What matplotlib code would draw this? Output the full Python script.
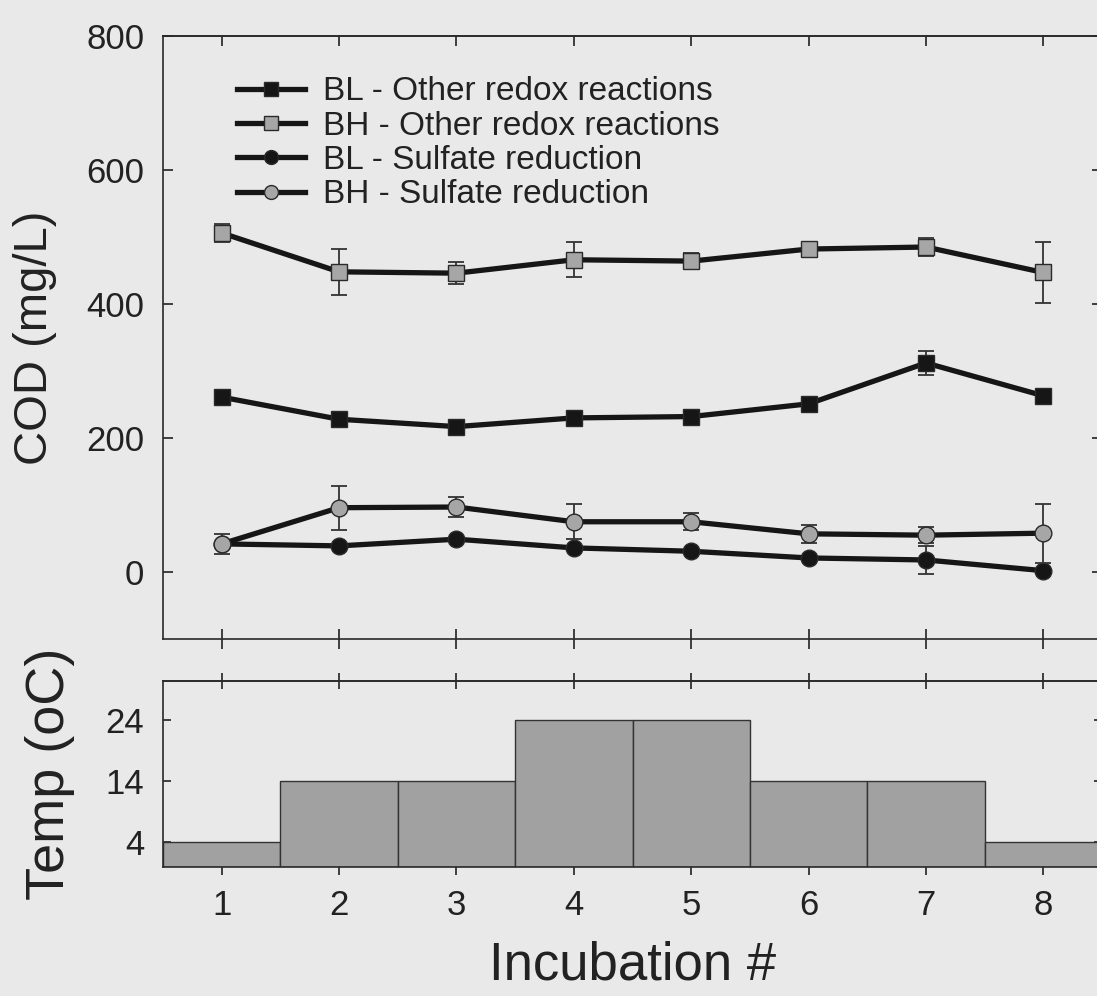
"""
COD por tipo de reação (BL/BH) ao longo das incubações, com a temperatura
de cada incubação em barras no painel de baixo.
"""
import numpy as np
import matplotlib
matplotlib.use("Agg")
import matplotlib.pyplot as plt
from matplotlib.lines import Line2D

# ── dados ────────────────────────────────────────────────────────────────
incubacao = [1, 2, 3, 4, 5, 6, 7, 8]

bl_outras = [261, 228, 217, 230, 232, 251, 312, 263]
bl_outras_err = [0, 0, 0, 0, 0, 0, 18, 0]
bh_outras = [506, 448, 446, 466, 464, 482, 485, 447]
bh_outras_err = [14, 34, 16, 26, 12, 5, 13, 45]
bl_sulfato = [42, 39, 49, 36, 31, 21, 18, 2]
bl_sulfato_err = [0, 0, 0, 0, 0, 0, 21, 0]
bh_sulfato = [42, 96, 97, 75, 75, 57, 55, 58]
bh_sulfato_err = [15, 33, 15, 26, 13, 13, 12, 44]

temperatura = [4, 14, 14, 24, 24, 14, 14, 4]

rotulos = ["BL - Other redox reactions", "BH - Other redox reactions",
           "BL - Sulfate reduction", "BH - Sulfate reduction"]

# ── estilo ───────────────────────────────────────────────────────────────
plt.rcParams["font.family"] = ["Liberation Sans", "DejaVu Sans"]
FUNDO = "#e9e9e9"
TINTA = "#222222"
PRETO = "#161616"
CINZA = "#a6a6a6"
plt.rcParams["text.color"] = TINTA
plt.rcParams["axes.labelcolor"] = TINTA
plt.rcParams["xtick.color"] = TINTA
plt.rcParams["ytick.color"] = TINTA

fig = plt.figure(figsize=(10.97, 9.96), dpi=100, facecolor=FUNDO)
ax = fig.add_axes([0.1486, 0.3584, 0.856, 0.6055], facecolor=FUNDO)
ax2 = fig.add_axes([0.1486, 0.1295, 0.856, 0.1868], facecolor=FUNDO)

for a in (ax, ax2):
    for s in a.spines.values():
        s.set_linewidth(1.2)
        s.set_color("#2a2a2a")
    a.set_xlim(0.5, 8.5)
    a.set_xticks(incubacao)

# ── painel de COD ────────────────────────────────────────────────────────
series = [
    (bl_outras, bl_outras_err, "s", PRETO),
    (bh_outras, bh_outras_err, "s", CINZA),
    (bl_sulfato, bl_sulfato_err, "o", PRETO),
    (bh_sulfato, bh_sulfato_err, "o", CINZA),
]
handles = []
for i, (vals, err, mk, cor) in enumerate(series):
    ax.errorbar(incubacao, vals, yerr=err, fmt="none", ecolor="#333333",
                elinewidth=1.3, capsize=5.5, capthick=1.3, zorder=2 + 2 * i)
    ax.plot(incubacao, vals, "-", marker=mk, color=PRETO, lw=3.8, ms=12,
            mfc=cor, mec="#2a2a2a", mew=1.0, zorder=3 + 2 * i)
    handles.append(Line2D([], [], color=PRETO, lw=3.8, marker=mk, ms=10,
                          mfc=cor, mec="#2a2a2a", mew=1.0))

ax.set_ylim(-100, 800)
ax.set_yticks([0, 200, 400, 600, 800])
ax.tick_params(axis="y", direction="in", length=7, width=1.2,
               left=True, right=True, labelsize=25, pad=13.5)
ax.tick_params(axis="x", direction="inout", length=14, width=1.2,
               labelbottom=False)
topo = ax.secondary_xaxis("top")
topo.set_xticks(incubacao, labels=[])
topo.tick_params(direction="in", length=7, width=1.2)
topo.spines["top"].set_linewidth(1.2)
topo.spines["top"].set_color("#2a2a2a")
ax.set_ylabel("COD (mg/L)", fontsize=34, labelpad=21)

ax.legend(handles, rotulos, loc="upper left", bbox_to_anchor=(0.0788, 0.933),
          frameon=False, fontsize=24, handlelength=2.04, handletextpad=0.54,
          labelspacing=0.1, borderpad=0, borderaxespad=0)

# ── painel de temperatura ────────────────────────────────────────────────
ax2.bar(incubacao, temperatura, width=1.0, color="#a1a1a1",
        edgecolor="#333333", linewidth=1.0, zorder=2)
ax2.set_ylim(0, 30.3)
ax2.set_yticks([4, 14, 24])
ax2.tick_params(axis="y", direction="in", length=6, width=1.2,
                left=True, right=True, labelsize=25, pad=13.5)
ax2.tick_params(axis="x", direction="out", length=6, width=1.2,
                labelsize=25, pad=10)
topo2 = ax2.secondary_xaxis("top")
topo2.set_xticks(incubacao, labels=[])
topo2.tick_params(direction="inout", length=11, width=1.2)
topo2.spines["top"].set_linewidth(1.2)
topo2.spines["top"].set_color("#2a2a2a")
ax2.set_ylabel("Temp (oC)", fontsize=39, labelpad=22)
ax2.set_xlabel("Incubation #", fontsize=38, labelpad=13)

fig.savefig("out.png", dpi=100, facecolor=FUNDO)
